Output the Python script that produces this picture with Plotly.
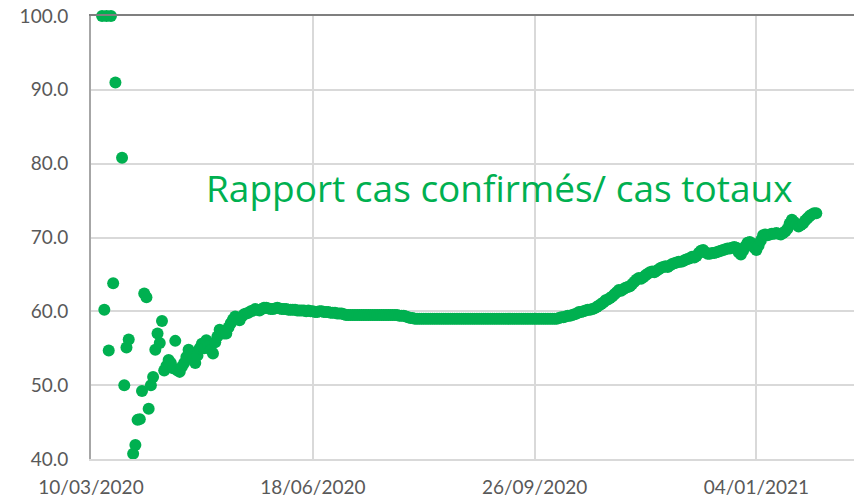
import datetime as dt
import plotly.graph_objects as go

# ---- data (day offset from 10/03/2020, ratio %) ----
start = dt.date(2020, 3, 10)

early_days = [5, 6, 7, 8, 9, 10, 11, 14, 15, 16, 17, 19, 20, 21, 22, 23, 24, 25, 26, 27, 28, 29]
early_vals = [100.0, 60.2, 100.0, 54.7, 100.0, 63.8, 91.0, 80.8, 50.0, 55.1, 56.2, 40.7, 41.9,
              45.3, 45.4, 49.2, 62.4, 61.9, 46.8, 50.0, 51.1, 54.8]

band_start_day = 30
band_vals = [
    # d30-49
    57.0, 55.7, 58.7, 52.0, 52.6, 53.4, 53.0, 52.3, 56.0, 52.0,
    51.8, 52.5, 53.0, 53.8, 54.8, 54.2, 53.5, 53.0, 54.0, 55.0,
    # d50-69
    55.6, 55.0, 56.1, 55.3, 54.8, 54.3, 55.8, 56.6, 57.5, 57.2,
    57.0, 57.0, 57.8, 58.4, 58.9, 59.3, 59.0, 58.8, 59.3, 59.6,
    # d70-99
    59.7, 59.8, 60.0, 60.1, 60.3, 60.2, 60.1, 60.3, 60.5, 60.5,
    60.4, 60.3, 60.3, 60.4, 60.5, 60.4, 60.3, 60.3, 60.3, 60.2,
    60.2, 60.2, 60.2, 60.1, 60.1, 60.1, 60.1, 60.0, 60.1, 60.0,
    # d100-113
    60.0, 59.9, 59.9, 60.0, 60.0, 59.9, 59.9, 59.9, 59.8, 59.8, 59.8, 59.7, 59.7, 59.7,
    # d114-143
    59.6, 59.5, 59.5, 59.5, 59.5, 59.5, 59.5, 59.5, 59.5, 59.5,
    59.5, 59.5, 59.5, 59.5, 59.5, 59.5, 59.5, 59.5, 59.5, 59.5,
    59.5, 59.5, 59.5, 59.5, 59.5, 59.4, 59.4, 59.4, 59.3, 59.2,
    # d144-210
    59.1, 59.1, 59.0, 59.0, 59.0, 59.0, 59.0, 59.0, 59.0, 59.0,
    59.0, 59.0, 59.0, 59.0, 59.0, 59.0, 59.0, 59.0, 59.0, 59.0,
    59.0, 59.0, 59.0, 59.0, 59.0, 59.0, 59.0, 59.0, 59.0, 59.0,
    59.0, 59.0, 59.0, 59.0, 59.0, 59.0, 59.0, 59.0, 59.0, 59.0,
    59.0, 59.0, 59.0, 59.0, 59.0, 59.0, 59.0, 59.0, 59.0, 59.0,
    59.0, 59.0, 59.0, 59.0, 59.0, 59.0, 59.0, 59.0, 59.0, 59.0,
    59.0, 59.0, 59.0, 59.0, 59.0, 59.0, 59.0,
    # d211-227
    59.1, 59.2, 59.2, 59.3, 59.4, 59.4, 59.5, 59.6, 59.7, 59.9,
    59.9, 60.0, 60.1, 60.2, 60.2, 60.3, 60.4,
    # d228-240
    60.6, 60.8, 61.0, 61.2, 61.5, 61.6, 61.8, 62.0, 62.3, 62.6, 62.9, 62.8, 63.0,
    # d241-260
    63.2, 63.3, 63.4, 63.7, 64.0, 64.3, 64.5, 64.4, 64.6, 64.9,
    65.1, 65.3, 65.4, 65.3, 65.5, 65.7, 65.9, 66.0, 66.1, 66.0,
    # d261-280
    66.2, 66.4, 66.5, 66.6, 66.7, 66.7, 66.8, 67.0, 67.1, 67.2,
    67.4, 67.3, 67.5, 67.9, 68.2, 68.3, 68.0, 67.8, 67.8, 67.9,
    # d281-300
    67.9, 68.0, 68.1, 68.2, 68.3, 68.4, 68.5, 68.5, 68.6, 68.7,
    68.6, 68.0, 67.7, 68.2, 68.8, 69.3, 69.4, 69.2, 68.6, 68.3,
    # d301-327
    68.9, 69.6, 70.3, 70.4, 70.3, 70.4, 70.5, 70.5, 70.6, 70.5,
    70.4, 70.6, 70.8, 71.2, 71.9, 72.4, 72.1, 71.8, 71.5, 71.7,
    71.9, 72.3, 72.6, 72.9, 73.1, 73.3, 73.3,
]

tick_dates = ["2020-03-10", "2020-06-18", "2020-09-26", "2021-01-04"]
tick_labels = ["10/03/2020", "18/06/2020", "26/09/2020", "04/01/2021"]
y_ticks = [40, 50, 60, 70, 80, 90, 100]
title_text = "Rapport cas confirmés/ cas totaux"

# ---- build series ----
days = early_days + [band_start_day + i for i in range(len(band_vals))]
vals = early_vals + band_vals
dates = [(start + dt.timedelta(days=d)).isoformat() for d in days]

GREEN = "#00B050"
GRID = "#d9d9d9"
TXT = "#595959"
FONT = "Lato"

fig = go.Figure()
fig.add_trace(go.Scatter(
    x=dates, y=vals, mode="markers",
    marker=dict(color=GREEN, size=12, line=dict(width=0)),
    cliponaxis=False, showlegend=False, hoverinfo="x+y",
))

x_end = (start + dt.timedelta(days=344.2)).isoformat()

fig.update_layout(
    width=854, height=502,
    margin=dict(l=91, r=0, t=16, b=43, autoexpand=False),
    paper_bgcolor="white", plot_bgcolor="white",
    font=dict(family=FONT, color=TXT, size=19),
    xaxis=dict(
        type="date", range=[start.isoformat(), x_end],
        tickvals=tick_dates, ticktext=tick_labels,
        showgrid=True, gridcolor=GRID, gridwidth=2,
        showline=True, linecolor=GRID, linewidth=2,
        ticks="", ticklabelstandoff=10, automargin=False,
        ticklabeloverflow="allow",
        tickfont=dict(family=FONT, size=19, color=TXT),
        zeroline=False,
    ),
    xaxis2=dict(
        overlaying="x", side="top", matches="x", showline=True,
        linecolor="#7f7f7f", linewidth=2, showticklabels=False,
        showgrid=False, ticks="", zeroline=False, automargin=False,
    ),
    yaxis=dict(
        range=[40, 100], tickvals=y_ticks, tickformat=".1f",
        showgrid=True, gridcolor=GRID, gridwidth=2,
        showline=True, linecolor="#a6a6a6", linewidth=2,
        ticks="", ticklabelstandoff=17, automargin=False,
        ticklabeloverflow="allow",
        tickfont=dict(family=FONT, size=19, color=TXT),
        zeroline=False,
    ),
    annotations=[dict(
        text=title_text, xref="paper", yref="paper",
        x=(204 - 91) / 763, y=(459 - 187) / 443,
        xanchor="left", yanchor="middle", showarrow=False,
        font=dict(family="Open Sans", size=37, color=GREEN),
    )],
)
# invisible trace to activate the top axis line
fig.add_trace(go.Scatter(x=[dates[0]], y=[None], xaxis="x2", yaxis="y",
                         showlegend=False, hoverinfo="skip"))

# remove the browser's default 8px body margin so the figure fills the window
fig.write_html("out.html",
               config={"displayModeBar": False},
               post_script="document.body.style.margin='0';document.body.style.overflow='hidden';")
